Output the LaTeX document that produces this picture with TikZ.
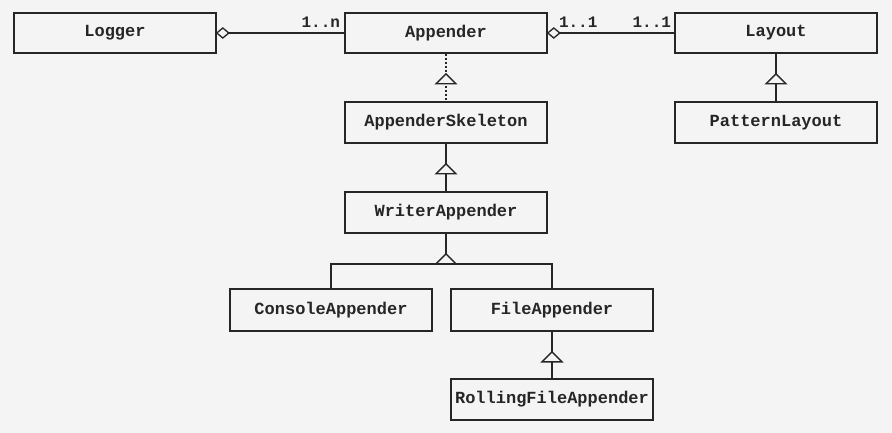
\documentclass[tikz,border=0pt]{standalone}
\usepackage{fontspec}
\setmonofont{Liberation Mono}
\usetikzlibrary{calc}
\definecolor{bg}{HTML}{F4F4F4}
\definecolor{ink}{HTML}{262626}
\begin{document}
\begin{tikzpicture}[x=1pt,y=-1pt,
  cls/.style={draw=ink,line width=1.6pt,minimum width=202pt,minimum height=40pt,inner sep=0pt,
    font=\ttfamily\bfseries\fontsize{17}{19}\selectfont,text=ink},
  conn/.style={draw=ink,line width=2pt},
  dotconn/.style={draw=ink,line width=2pt,dash pattern=on 2pt off 2pt},
  gentri/.style={draw=ink,line width=1.4pt,fill=bg},
  aggr/.style={draw=ink,line width=1.3pt,fill=bg},
  mult/.style={font=\ttfamily\bfseries\fontsize{16}{18}\selectfont,text=ink,inner sep=0pt}
]
\fill[bg] (0,0) rectangle (892,433);
\useasboundingbox (0,0) rectangle (892,433);

\node[cls] (logger)   at (115,33)    {Logger};
\node[cls] (appender) at (446,33)    {Appender};
\node[cls] (layout)   at (776,33)    {Layout};
\node[cls,minimum height=41pt] (skel) at (446,122.5) {AppenderSkeleton};
\node[cls,minimum height=41pt] (pattern) at (776,122.5) {PatternLayout};
\node[cls,minimum height=41pt] (writer) at (446,212.5) {WriterAppender};
\node[cls,minimum height=42pt] (console) at (331,310) {ConsoleAppender};
\node[cls,minimum height=42pt] (file) at (552,310) {FileAppender};
\node[cls,minimum height=41pt] (rolling) at (552,399.5) {RollingFileAppender};

% aggregations
\draw[conn] (logger.east) -- (appender.west);
\draw[aggr] (logger.east) -- ++(6,-5) -- ++(6,5) -- ++(-6,5) -- cycle;
\node[mult,anchor=base east] (m1) at ($(appender.west)+(-4,-5)$) {1..n};

\draw[conn] (appender.east) -- (layout.west);
\draw[aggr] (appender.east) -- ++(6,-5) -- ++(6,5) -- ++(-6,5) -- cycle;
\node[mult,anchor=base west] (m2) at ($(appender.east)+(11,-5)$) {1..1};
\node[mult,anchor=base east] (m3) at ($(layout.west)+(-3,-5)$) {1..1};

% realization
\draw[dotconn] (appender.south) -- (skel.north);
\coordinate (t1) at ($(appender.south)+(0,20)$);
\draw[gentri] (t1) -- ++(10,10) -- ++(-20,0) -- cycle;

% generalizations
\draw[conn] (layout.south) -- (pattern.north);
\coordinate (t2) at ($(layout.south)+(0,20)$);
\draw[gentri] (t2) -- ++(10,10) -- ++(-20,0) -- cycle;

\draw[conn] (skel.south) -- (writer.north);
\coordinate (t3) at ($(skel.south)+(0,20)$);
\draw[gentri] (t3) -- ++(10,10) -- ++(-20,0) -- cycle;

\coordinate (bus) at ($(writer.south)+(0,30)$);
\draw[conn] (writer.south) -- (bus);
\draw[conn] (bus) -| (console.north);
\draw[conn] (bus) -| (file.north);
\coordinate (t4) at ($(writer.south)+(0,20)$);
\draw[gentri] (t4) -- ++(10,10) -- ++(-20,0) -- cycle;

\draw[conn] (file.south) -- (rolling.north);
\coordinate (t5) at ($(file.south)+(0,20)$);
\draw[gentri] (t5) -- ++(10,10) -- ++(-20,0) -- cycle;
\end{tikzpicture}
\end{document}
